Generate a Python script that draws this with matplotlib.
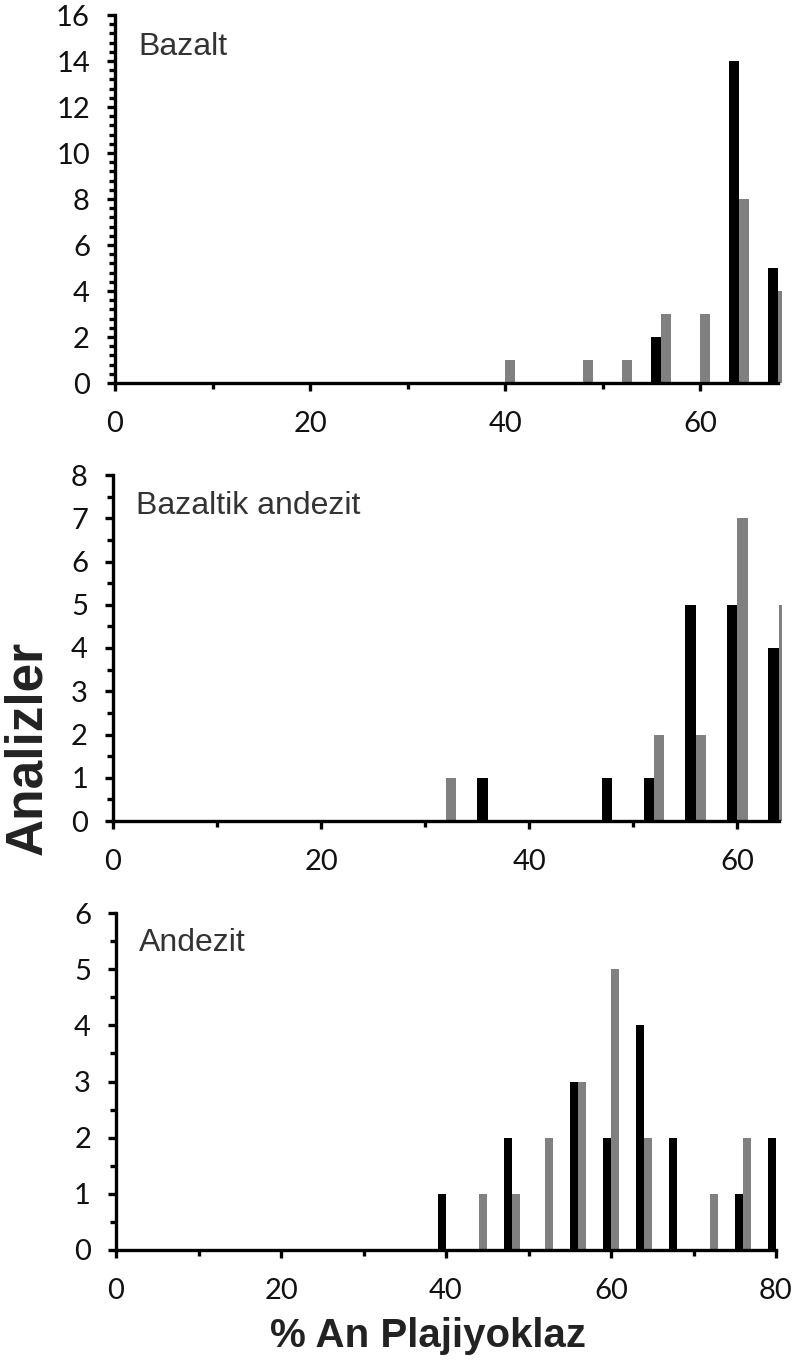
import matplotlib
matplotlib.use("Agg")
import matplotlib.pyplot as plt
import numpy as np
from matplotlib.ticker import MultipleLocator

# An content bins (% An) and counts per rock type
an_bins = [32, 36, 40, 44, 48, 52, 56, 60, 64, 68, 72, 76, 80]

bazalt_black = [0, 0, 0, 0, 0, 0, 2, 0, 14, 5, 0, 0, 0]
bazalt_gray = [0, 0, 1, 0, 1, 1, 3, 3, 8, 4, 0, 0, 0]

bazaltik_black = [0, 1, 0, 0, 1, 1, 5, 5, 4, 0, 0, 0, 0]
bazaltik_gray = [1, 0, 0, 0, 0, 2, 2, 7, 5, 0, 0, 0, 0]

andezit_black = [0, 0, 1, 0, 2, 0, 3, 2, 4, 2, 0, 1, 2]
andezit_gray = [0, 0, 0, 1, 1, 2, 3, 5, 2, 0, 1, 2, 0]

panel_names = ["Bazalt", "Bazaltik andezit", "Andezit"]
x_ticks = [0, 20, 40, 60, 80]

W, H = 795, 1367
DPI = 100

fig = plt.figure(figsize=(W / DPI, H / DPI), dpi=DPI)
fig.patch.set_facecolor("white")

TICK_FONT = "Lato"
TITLE_FONT = "Liberation Sans"


def px_axes(left, right, top, bottom):
    return fig.add_axes([left / W, 1 - bottom / H, (right - left) / W, (bottom - top) / H])


def hist_panel(ax, black, gray, name, xmax, xend, ymax, ymajor, yminor):
    bins = np.array(an_bins)
    ax.bar(bins - 1, black, width=1.0, align="edge", color="black", linewidth=0, zorder=2)
    ax.bar(bins, gray, width=1.0, align="edge", color="#808080", linewidth=0, zorder=2)

    ax.set_xlim(0, xmax)
    ax.set_ylim(0, ymax)
    for s in ["top", "right"]:
        ax.spines[s].set_visible(False)
    for s in ["left", "bottom"]:
        ax.spines[s].set_linewidth(2.4)
        ax.spines[s].set_zorder(3)
    ax.spines["bottom"].set_bounds(0, xend)

    ax.xaxis.set_major_locator(MultipleLocator(20))
    ax.xaxis.set_minor_locator(MultipleLocator(10))
    ax.yaxis.set_major_locator(MultipleLocator(ymajor))
    ax.yaxis.set_minor_locator(MultipleLocator(yminor))
    ax.set_xticks([t for t in x_ticks if t <= xend])

    ax.tick_params(which="major", direction="out", length=6, width=2.4, colors="black")
    ax.tick_params(which="minor", direction="out", length=4.5, width=2.4, colors="black")
    ax.tick_params(axis="y", which="major", pad=12)
    ax.tick_params(axis="x", which="major", pad=14)
    for lab in ax.get_xticklabels() + ax.get_yticklabels():
        lab.set_fontfamily(TICK_FONT)
        lab.set_fontsize(21)
        lab.set_color("#111111")

    ax.text(0.035, 0.955, name, transform=ax.transAxes, ha="left", va="top",
            fontsize=23, family=TITLE_FONT, color="#333333")


ax1 = px_axes(115, 782, 15, 383)
hist_panel(ax1, bazalt_black, bazalt_gray, panel_names[0], 68.4, 68, 16, 2, 0.4)

ax2 = px_axes(113, 782, 475, 821)
hist_panel(ax2, bazaltik_black, bazaltik_gray, panel_names[1], 64.3, 64, 8, 1, 0.5)

ax3 = px_axes(116, 776, 913, 1250)
hist_panel(ax3, andezit_black, andezit_gray, panel_names[2], 80, 80, 6, 1, 0.5)

fig.text(28 / W, 1 - 748 / H, "Analizler", rotation=90, ha="center", va="center",
         fontsize=37, fontweight="bold", family="Liberation Sans", color="#222222")
fig.text(428 / W, 1 - 1336 / H, "% An Plajiyoklaz", ha="center", va="center",
         fontsize=29, fontweight="bold", family="Liberation Sans", color="#222222")

fig.savefig("out.png", dpi=DPI, facecolor="white")
